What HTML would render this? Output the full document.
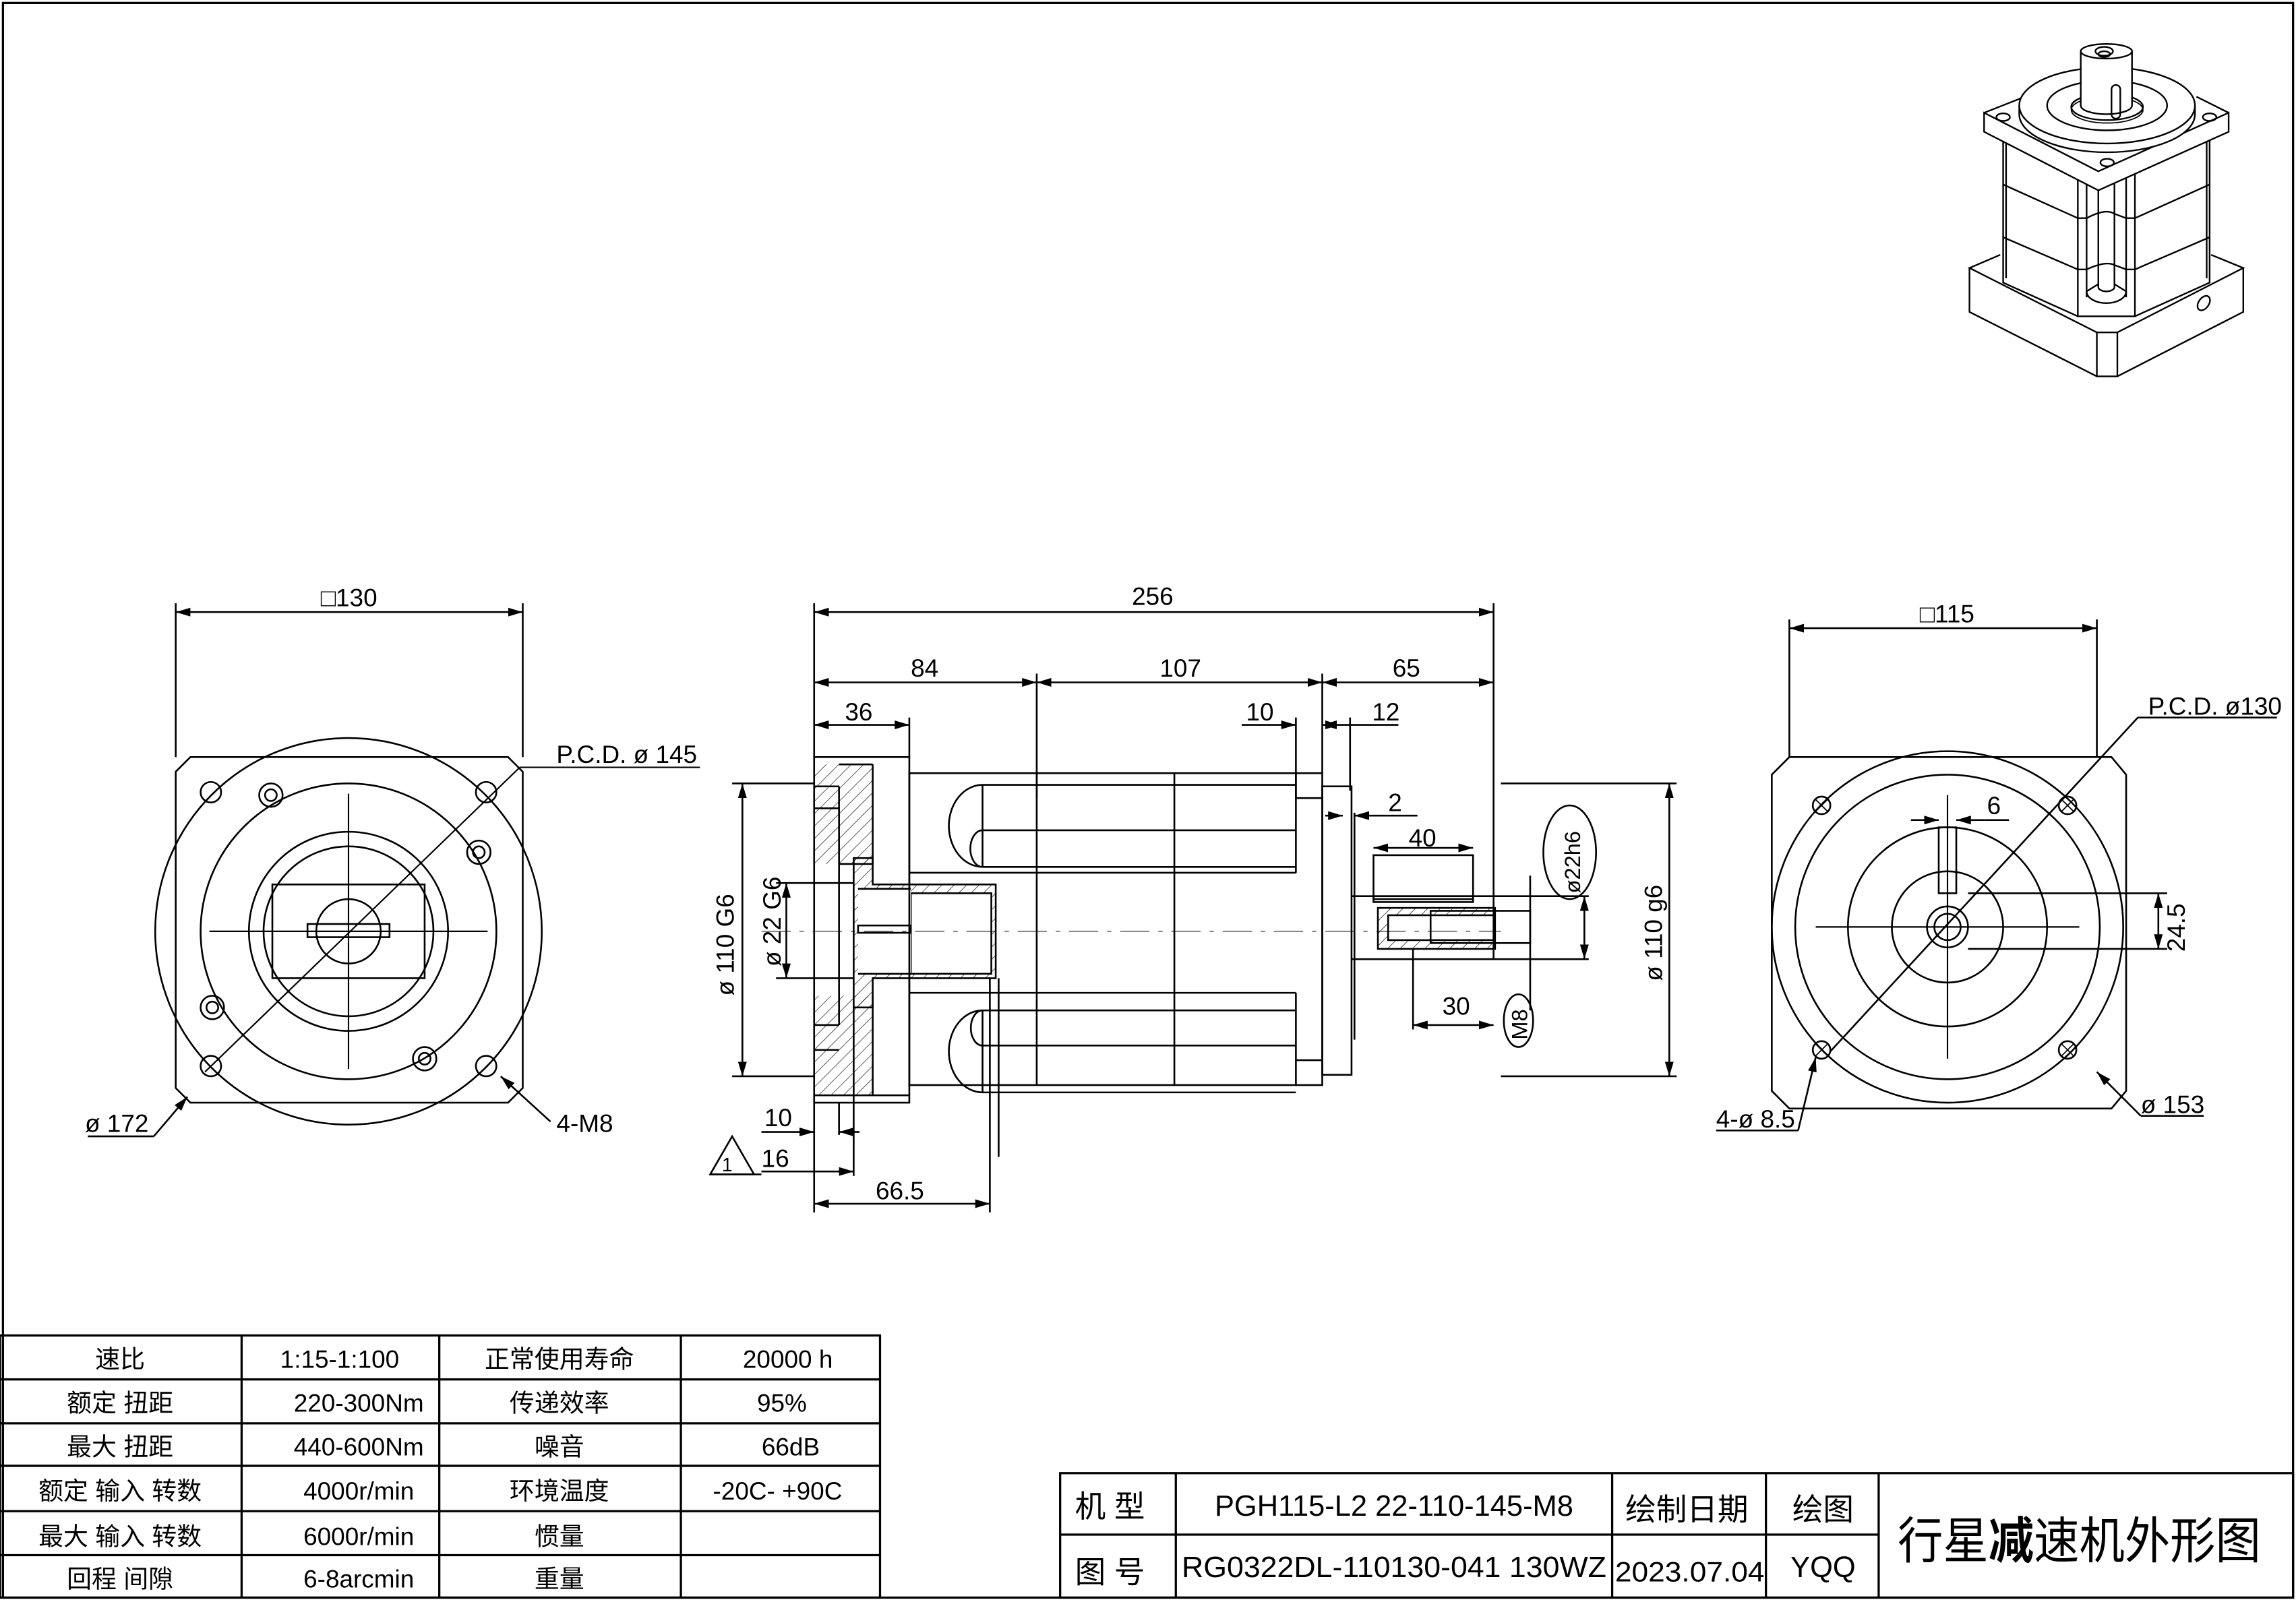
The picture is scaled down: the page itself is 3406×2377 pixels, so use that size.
<!DOCTYPE html>
<html><head><meta charset="utf-8"><style>
html,body{margin:0;padding:0;background:#fff;width:3406px;height:2377px;overflow:hidden}
svg{display:block}
text{font-family:"Liberation Sans","Noto Sans CJK SC",sans-serif;fill:#000}
</style></head><body>
<svg width="3406" height="2377" viewBox="0 0 1568 1094" preserveAspectRatio="none" xmlns="http://www.w3.org/2000/svg">
<defs>
<marker id="a" viewBox="0 0 10 6" refX="10" refY="3" markerWidth="10" markerHeight="6" orient="auto-start-reverse" markerUnits="userSpaceOnUse"><path d="M0,0 L10,3 L0,6 z" fill="#000"/></marker>
<pattern id="h" width="6" height="6" patternUnits="userSpaceOnUse" patternTransform="rotate(45)"><line x1="0" y1="0" x2="0" y2="6" stroke="#000" stroke-width="0.6"/></pattern>
</defs>
<g fill="none" stroke="#000" stroke-width="1.2">
<rect x="2" y="2" width="1564" height="1089" stroke-width="1.5"/>

<!-- LEFT VIEW -->
<path d="M130,517 L347,517 L357,527 L357,743 L347,753 L130,753 L120,743 L120,527 Z"/>
<circle cx="238" cy="636" r="132"/>
<circle cx="238" cy="636" r="101"/>
<circle cx="238" cy="636" r="68"/>
<circle cx="238" cy="636" r="58"/>
<circle cx="238" cy="636" r="22"/>
<rect x="186" y="604" width="104" height="64"/>
<line x1="143" y1="636" x2="333" y2="636" stroke-width="1"/>
<line x1="238" y1="542" x2="238" y2="730" stroke-width="1"/>
<rect x="210" y="631" width="56" height="9"/>
<circle cx="144" cy="541" r="7"/><circle cx="332" cy="541" r="7"/><circle cx="144" cy="728" r="7"/><circle cx="332" cy="728" r="7"/>
<circle cx="185" cy="543" r="8"/><circle cx="327" cy="582" r="8"/><circle cx="145" cy="688" r="8"/><circle cx="290" cy="723" r="8"/>
<circle cx="185" cy="543" r="4"/><circle cx="327" cy="582" r="4"/><circle cx="145" cy="688" r="4"/><circle cx="290" cy="723" r="4"/>
<line x1="140" y1="732" x2="355" y2="524" stroke-width="1"/>
<line x1="355" y1="524" x2="478" y2="524" stroke-width="1"/>
<line x1="120" y1="517" x2="120" y2="412"/><line x1="357" y1="517" x2="357" y2="412"/>
<line x1="120" y1="418" x2="357" y2="418" marker-start="url(#a)" marker-end="url(#a)"/>
<line x1="60" y1="776" x2="105" y2="776"/><line x1="105" y1="776" x2="128" y2="749" marker-end="url(#a)"/>
<line x1="342" y1="735" x2="376" y2="766" marker-start="url(#a)"/>

<!-- CENTER VIEW -->
<line x1="556" y1="412" x2="556" y2="517"/><line x1="1020" y1="412" x2="1020" y2="655"/>
<line x1="556" y1="418" x2="1020" y2="418" marker-start="url(#a)" marker-end="url(#a)"/>
<line x1="556" y1="466" x2="708" y2="466" marker-start="url(#a)" marker-end="url(#a)"/>
<line x1="708" y1="466" x2="903" y2="466" marker-start="url(#a)" marker-end="url(#a)"/>
<line x1="903" y1="466" x2="1020" y2="466" marker-start="url(#a)" marker-end="url(#a)"/>
<line x1="708" y1="460" x2="708" y2="545"/><line x1="903" y1="460" x2="903" y2="528"/>
<line x1="556" y1="495" x2="621" y2="495" marker-start="url(#a)" marker-end="url(#a)"/>
<line x1="621" y1="490" x2="621" y2="517"/>
<line x1="848" y1="495" x2="885" y2="495" marker-end="url(#a)"/>
<line x1="885" y1="490" x2="885" y2="545"/>
<line x1="903" y1="495" x2="915" y2="495" marker-start="url(#a)" marker-end="url(#a)"/>
<line x1="915" y1="495" x2="955" y2="495"/>
<line x1="922" y1="490" x2="922" y2="540"/>
<rect x="556" y="517" width="65" height="236"/>
<rect x="556" y="522" width="40" height="68" fill="url(#h)" stroke="none"/>
<rect x="556" y="680" width="40" height="68" fill="url(#h)" stroke="none"/>
<line x1="556" y1="748" x2="621" y2="748"/>
<line x1="596" y1="522" x2="596" y2="590"/><line x1="573" y1="522" x2="596" y2="522"/>
<line x1="573" y1="590" x2="596" y2="590"/>
<line x1="556" y1="537" x2="573" y2="537"/><line x1="556" y1="552" x2="573" y2="552"/>
<line x1="573" y1="537" x2="573" y2="700"/>
<line x1="556" y1="700" x2="573" y2="700"/><line x1="556" y1="717" x2="573" y2="717"/>
<line x1="596" y1="680" x2="596" y2="748"/>
<path d="M583,586 L596,586 L596,604 L680,604 L680,668 L596,668 L596,688 L583,688 Z" fill="url(#h)"/>
<rect x="622" y="610" width="55" height="55" fill="#fff"/>
<rect x="586" y="607" width="36" height="58" fill="#fff" stroke="none"/>
<line x1="586" y1="607" x2="622" y2="607"/><line x1="586" y1="665" x2="622" y2="665"/>
<rect x="586" y="632" width="36" height="5"/>
<rect x="621" y="528" width="282" height="213"/>
<line x1="708" y1="528" x2="708" y2="741"/><line x1="802" y1="528" x2="802" y2="741"/>
<line x1="621" y1="596" x2="885" y2="596"/><line x1="621" y1="678" x2="885" y2="678"/>
<line x1="885" y1="528" x2="885" y2="596"/><line x1="885" y1="678" x2="885" y2="741"/>
<line x1="885" y1="545" x2="903" y2="545"/><line x1="885" y1="724" x2="903" y2="724"/>
<path d="M671,536 L885,536 M671,536 A23,28 0 0,0 671,592 L885,592 M671,567 L885,567 M671,567 A8,12 0 0,0 671,592 M671,536 L671,592"/>
<path d="M671,690 L885,690 M671,690 A23,28 0 0,0 671,746 L885,746 M671,714 L885,714 M671,690 A8,12 0 0,0 671,714 M671,690 L671,746"/>
<line x1="682" y1="668" x2="682" y2="790"/>
<rect x="903" y="537" width="20" height="197"/>
<line x1="925" y1="555" x2="925" y2="710"/>
<rect x="938" y="584" width="68" height="30"/>
<rect x="938" y="612" width="68" height="4"/>
<rect x="941" y="620" width="80" height="28" fill="url(#h)"/>
<rect x="948" y="625" width="72" height="17" fill="#fff"/>
<rect x="977" y="622" width="68" height="22"/>
<line x1="923" y1="612" x2="1085" y2="612"/><line x1="923" y1="655" x2="1085" y2="655"/>
<line x1="520" y1="636" x2="1025" y2="636" stroke-width="0.5" stroke-dasharray="20,6,3,6"/>
<line x1="1025" y1="535" x2="1145" y2="535"/><line x1="1025" y1="735" x2="1145" y2="735"/>
<line x1="1140" y1="535" x2="1140" y2="735" marker-start="url(#a)" marker-end="url(#a)"/>
<line x1="1082" y1="612" x2="1082" y2="655" marker-start="url(#a)" marker-end="url(#a)"/>
<ellipse cx="1072" cy="582" rx="18" ry="32"/>
<ellipse cx="1037" cy="697" rx="10" ry="18"/>
<line x1="1045" y1="598" x2="1045" y2="690"/>
<line x1="938" y1="579" x2="1006" y2="579" marker-start="url(#a)" marker-end="url(#a)"/>
<line x1="965" y1="700" x2="1020" y2="700" marker-start="url(#a)" marker-end="url(#a)"/>
<line x1="965" y1="648" x2="965" y2="703"/>
<line x1="905" y1="557" x2="917" y2="557" marker-end="url(#a)"/>
<line x1="935" y1="557" x2="925" y2="557" marker-end="url(#a)"/>
<line x1="935" y1="557" x2="968" y2="557"/>
<line x1="500" y1="535" x2="556" y2="535"/><line x1="500" y1="735" x2="556" y2="735"/>
<line x1="507" y1="535" x2="507" y2="735" marker-start="url(#a)" marker-end="url(#a)"/>
<line x1="530" y1="603" x2="583" y2="603"/><line x1="530" y1="668" x2="583" y2="668"/>
<line x1="537" y1="603" x2="537" y2="668" marker-start="url(#a)" marker-end="url(#a)"/>
<line x1="556" y1="753" x2="556" y2="828"/><line x1="573" y1="753" x2="573" y2="775"/>
<line x1="583" y1="688" x2="583" y2="803"/><line x1="676" y1="668" x2="676" y2="828"/>
<line x1="520" y1="773" x2="556" y2="773" marker-end="url(#a)"/><line x1="587" y1="773" x2="573" y2="773" marker-end="url(#a)"/>
<line x1="520" y1="800" x2="583" y2="800" marker-end="url(#a)"/>
<line x1="556" y1="822" x2="676" y2="822" marker-start="url(#a)" marker-end="url(#a)"/>
<path d="M485,802 L500,776 L515,802 Z"/>
<line x1="485" y1="802" x2="520" y2="802"/>

<!-- RIGHT VIEW -->
<path d="M1222,517 L1442,517 L1452,529 L1452,745 L1442,757 L1222,757 L1210,745 L1210,529 Z"/>
<circle cx="1330" cy="633" r="120"/>
<circle cx="1330" cy="633" r="104"/>
<circle cx="1330" cy="633" r="68"/>
<circle cx="1330" cy="633" r="38"/>
<circle cx="1330" cy="633" r="14"/>
<circle cx="1330" cy="633" r="9"/>
<rect x="1324" y="565" width="12" height="45"/>
<line x1="1240" y1="633" x2="1420" y2="633" stroke-width="1"/>
<line x1="1330" y1="543" x2="1330" y2="723" stroke-width="1"/>
<circle cx="1244" cy="550" r="6"/><circle cx="1412" cy="550" r="6"/><circle cx="1244" cy="717" r="6"/><circle cx="1412" cy="717" r="6"/>
<path d="M1240,546 l8,8 M1248,546 l-8,8 M1408,546 l8,8 M1416,546 l-8,8 M1240,713 l8,8 M1248,713 l-8,8 M1408,713 l8,8 M1416,713 l-8,8" stroke-width="0.8"/>
<line x1="1222" y1="517" x2="1222" y2="423"/><line x1="1432" y1="517" x2="1432" y2="423"/>
<line x1="1222" y1="429" x2="1432" y2="429" marker-start="url(#a)" marker-end="url(#a)"/>
<line x1="1250" y1="718" x2="1460" y2="490"/><line x1="1460" y1="490" x2="1555" y2="490"/>
<line x1="1305" y1="560" x2="1324" y2="560" marker-end="url(#a)"/><line x1="1355" y1="560" x2="1336" y2="560" marker-end="url(#a)"/><line x1="1355" y1="560" x2="1372" y2="560"/>
<line x1="1344" y1="610" x2="1480" y2="610"/><line x1="1344" y1="648" x2="1480" y2="648"/>
<line x1="1474" y1="610" x2="1474" y2="648" marker-start="url(#a)" marker-end="url(#a)"/>
<line x1="1172" y1="772" x2="1228" y2="772"/><line x1="1228" y1="772" x2="1240" y2="722" marker-end="url(#a)"/>
<line x1="1432" y1="732" x2="1462" y2="762" marker-start="url(#a)"/><line x1="1462" y1="762" x2="1505" y2="762"/>

<!-- ISO VIEW -->
<g stroke-width="1.1">
<!-- base -->
<path d="M1345,183 L1345,213 L1432,257 L1446,257 L1532,213 L1532,183"/>
<path d="M1366,174 L1345,183 L1432,227 L1446,227 L1532,183 L1510,174"/>
<line x1="1432" y1="227" x2="1432" y2="257"/><line x1="1446" y1="227" x2="1446" y2="257"/>
<ellipse cx="1505" cy="207" rx="3.5" ry="5.5" transform="rotate(35 1505 207)"/>
<!-- body -->
<path d="M1368,95 L1368,193 L1419,216 M1458,216 L1509,193 L1509,95"/>
<path d="M1370,95 L1370,190 M1507,95 L1507,190"/>
<path d="M1419,117 L1419,216 L1458,216 L1458,117 L1444,122 L1433,117 L1419,117"/>
<path d="M1425,122 L1425,203 M1452,122 L1452,203"/>
<path d="M1433,117 L1433,196 M1444,122 L1444,196"/>
<path d="M1433,196 A5.5,3 0 0,0 1444,196"/>
<path d="M1425,199 A13.5,8 0 0,0 1452,199 M1425,199 L1433,194 M1444,194 L1452,199"/>
<path d="M1368,126 L1419,149 L1425,149 Q1438,142 1444,146 L1452,149 L1458,149 L1509,126"/>
<path d="M1368,162 L1419,184 L1425,184 Q1438,178 1444,181 L1452,184 L1458,184 L1509,162"/>
<!-- top flange -->
<path d="M1355,77 L1355,90 L1433,130 L1522,90 L1522,77 L1433,117 Z" fill="#fff"/>
<path d="M1355,77 L1383,66 M1522,77 L1500,66"/>
<ellipse cx="1368" cy="80" rx="4.6" ry="2.6"/><ellipse cx="1509" cy="80" rx="4.6" ry="2.6"/><ellipse cx="1439" cy="111" rx="4.6" ry="2.6"/>
<path d="M1379,72 L1379,78 A60,26 0 0,0 1499,78 L1499,72" fill="#fff"/>
<ellipse cx="1439" cy="72" rx="60" ry="26" fill="#fff"/>
<ellipse cx="1439" cy="72" rx="41" ry="17"/>
<ellipse cx="1439" cy="73" rx="24.5" ry="9"/>
<ellipse cx="1439" cy="75" rx="24.5" ry="9" stroke-width="0.8"/>
<path d="M1421,35 L1421,72 A17.5,6 0 0,0 1456,72 L1456,35" fill="#fff"/>
<ellipse cx="1438.5" cy="35" rx="17.5" ry="5" fill="#fff"/>
<ellipse cx="1437" cy="35" rx="6" ry="3"/><ellipse cx="1437" cy="37" rx="4" ry="2"/>
<rect x="1442" y="58" width="6" height="23" rx="3"/>
</g>

<!-- TABLE -->
<g stroke-width="1.5">
<rect x="0" y="912" width="601" height="179"/>
<path d="M0,942 H601 M0,972 H601 M0,1001 H601 M0,1032 H601 M0,1062 H601 M165,912 V1091 M300,912 V1091 M465,912 V1091"/>
<rect x="724" y="1006" width="842" height="85"/>
<path d="M724,1048 H1283 M803,1006 V1091 M1101,1006 V1091 M1206,1006 V1091 M1283,1006 V1091"/>
</g>
</g>

<!-- TEXT -->
<g font-size="17">
<text x="219" y="414">□130</text>
<text x="380" y="521">P.C.D.  ø 145</text>
<text x="58" y="773">ø 172</text>
<text x="380" y="773">4-M8</text>
<text x="773" y="413">256</text>
<text x="622" y="462">84</text>
<text x="792" y="462">107</text>
<text x="951" y="462">65</text>
<text x="577" y="492">36</text>
<text x="851" y="492">10</text>
<text x="937" y="492">12</text>
<text x="948" y="554">2</text>
<text x="962" y="578">40</text>
<text x="985" y="693">30</text>
<text x="522" y="769">10</text>
<text x="520" y="797">16</text>
<text x="493" y="800" font-size="13">1</text>
<text x="598" y="819">66.5</text>
<text transform="translate(501,680) rotate(-90)">ø 110  G6</text>
<text transform="translate(533,660) rotate(-90)">ø 22 G6</text>
<text transform="translate(1079,610) rotate(-90)" font-size="15">ø22h6</text>
<text transform="translate(1043,710) rotate(-90)" font-size="15">M8</text>
<text transform="translate(1135,670) rotate(-90)">ø 110  g6</text>
<text x="1311" y="425">□115</text>
<text x="1467" y="488">P.C.D. ø130</text>
<text x="1357" y="556">6</text>
<text transform="translate(1492,650) rotate(-90)">24.5</text>
<text x="1172" y="770">4-ø 8.5</text>
<text x="1462" y="760">ø 153</text>
</g>
<g font-size="17" text-anchor="middle">
<text x="82" y="934">速比</text><text x="232" y="934">1:15-1:100</text><text x="382" y="934">正常使用寿命</text><text x="538" y="934">20000  h</text>
<text x="82" y="964">额定 扭距</text><text x="245" y="964">220-300Nm</text><text x="382" y="964">传递效率</text><text x="534" y="964">95%</text>
<text x="82" y="994">最大 扭距</text><text x="245" y="994">440-600Nm</text><text x="382" y="994">噪音</text><text x="540" y="994">66dB</text>
<text x="82" y="1024">额定 输入 转数</text><text x="245" y="1024">4000r/min</text><text x="382" y="1024">环境温度</text><text x="531" y="1024">-20C- +90C</text>
<text x="82" y="1055">最大 输入 转数</text><text x="245" y="1055">6000r/min</text><text x="382" y="1055">惯量</text>
<text x="82" y="1084">回程 间隙</text><text x="245" y="1084">6-8arcmin</text><text x="382" y="1084">重量</text>
<text x="758" y="1036" font-size="21">机 型</text>
<text x="952" y="1035" font-size="20">PGH115-L2  22-110-145-M8</text>
<text x="1152" y="1038" font-size="21">绘制日期</text>
<text x="1245" y="1038" font-size="21">绘图</text>
<text x="758" y="1081" font-size="21">图 号</text>
<text x="952" y="1077" font-size="20" textLength="290" lengthAdjust="spacingAndGlyphs">RG0322DL-110130-041  130WZ</text>
<text x="1154" y="1080" font-size="19" textLength="102" lengthAdjust="spacingAndGlyphs">2023.07.04</text>
<text x="1245" y="1077" font-size="20">YQQ</text>
<text x="1420" y="1064" font-size="34" textLength="248" lengthAdjust="spacingAndGlyphs">行星<tspan font-weight="bold">减</tspan>速机外形图</text>
</g>
</svg>
</body></html>
